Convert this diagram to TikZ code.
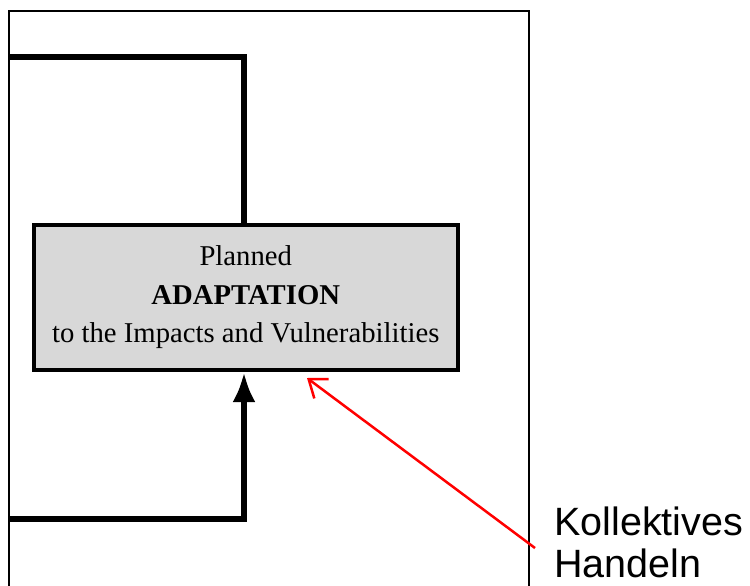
\documentclass[tikz,border=0pt]{standalone}
\usepackage{fontspec}
\newfontfamily\serifbox{Liberation Serif}
\newfontfamily\sanslabel{Liberation Sans}
\usetikzlibrary{arrows.meta}
\definecolor{boxgray}{HTML}{D8D8D8}
\tikzset{
  frameline/.style={draw=black,line width=2pt},
  flowline/.style={draw=black,line width=6.5pt},
  planbox/.style={draw=black,line width=4pt,fill=boxgray,rectangle,
    minimum width=423.5pt,minimum height=145.5pt,inner sep=0pt,align=center,
    font=\serifbox\fontsize{28.7pt}{38.5pt}\selectfont},
  notelabel/.style={inner sep=0pt,align=left,anchor=base west,
    font=\sanslabel\fontsize{39.5pt}{42pt}\selectfont},
  redarrow/.style={draw=red,line width=2.5pt,-{Straight Barb[length=16pt,width=24pt]}}
}
\begin{document}
\begin{tikzpicture}[x=1pt,y=-1pt]
\useasboundingbox (0,0) rectangle (750,586);
\clip (0,0) rectangle (750,586);
\fill[white] (0,0) rectangle (750,586);
% frame
\draw[frameline] (8.6,600) -- (8.6,10.6) -- (528.6,10.6) -- (528.6,600);
% box
\node[planbox] (box) at (245.75,297.25) {Planned\\\textbf{ADAPTATION}\\to the Impacts and Vulnerabilities};
% coordinates
\coordinate (tl) at (8.6,57);
\coordinate (bl) at (8.6,519);
\draw[flowline] (tl) -| ([xshift=-1.75pt]box.north);
\draw[flowline,-{Latex[length=30pt,width=23pt]}] (bl) -| ([xshift=-1.75pt]box.south);
% label
\node[notelabel] (note) at (554,577) {Kollektives\\Handeln};
\coordinate (rs) at (535,548);
\coordinate (rt) at (307,378);
\draw[redarrow] (rs) -- (rt);
\end{tikzpicture}
\end{document}
